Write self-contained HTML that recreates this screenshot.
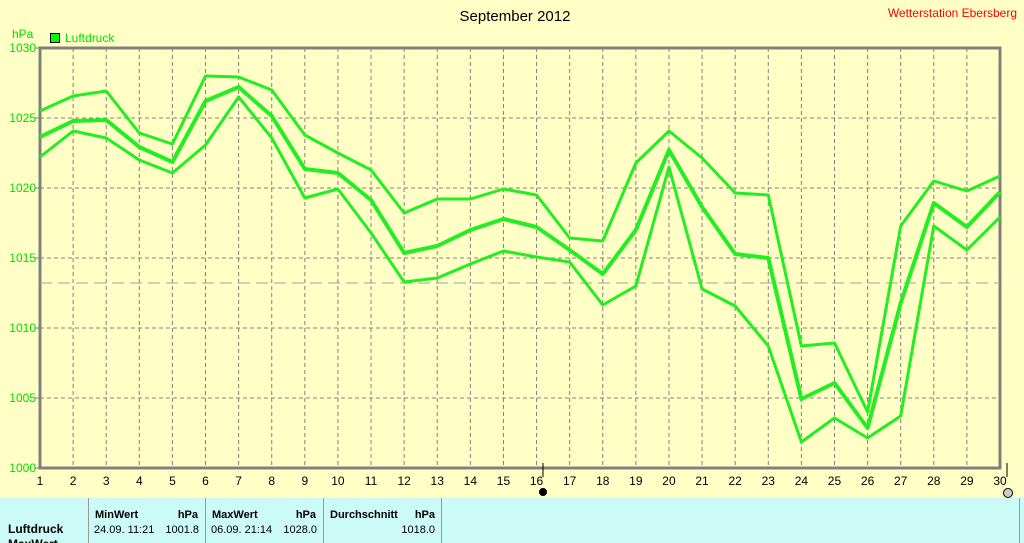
<!DOCTYPE html>
<html><head><meta charset="utf-8"><style>
body{margin:0;width:1024px;height:543px;overflow:hidden;background:#ffffc6;font-family:"Liberation Sans",sans-serif;}
</style></head><body>
<svg width="1024" height="543" style="position:absolute;left:0;top:0" font-family="Liberation Sans, sans-serif">
<rect x="0" y="0" width="1024" height="543" fill="#ffffc6"/>
<text x="515" y="21" font-size="15" text-anchor="middle" fill="#000">September 2012</text>
<text x="1017" y="17" font-size="12" text-anchor="end" fill="#ff0000">Wetterstation Ebersberg</text>
<text x="12" y="38" font-size="12" fill="#00e000">hPa</text>
<rect x="50.5" y="33.5" width="9" height="9" fill="#00ff00" stroke="#000"/>
<text x="65" y="42" font-size="12" fill="#00e000">Luftdruck</text>
<g id="grid" stroke="#808080" stroke-dasharray="4,3" stroke-width="1"></g>
<g stroke="#808080" stroke-width="3" fill="none"><path d="M40 48H1000V468H40Z"/></g>
<line x1="40" y1="283" x2="1000" y2="283" stroke="#a0a0a0" stroke-dasharray="12,6"/>
<g id="lab" font-size="12"></g>
<g id="lines" fill="none" stroke="#22ee22" stroke-linejoin="round"></g>
<line x1="1007" y1="463" x2="1007" y2="477" stroke="#000"/>
<line x1="543" y1="463" x2="543" y2="477" stroke="#000"/>
<circle cx="543" cy="492" r="4" fill="#000"/>
<circle cx="1008" cy="493" r="4.5" fill="#ccc" stroke="#000"/>
<rect x="0" y="498" width="1024" height="45" fill="#ccfaf7"/>
<g stroke="#999"><line x1="88.5" y1="498" x2="88.5" y2="543"/><line x1="205.5" y1="498" x2="205.5" y2="543"/><line x1="323.5" y1="498" x2="323.5" y2="543"/><line x1="441.5" y1="498" x2="441.5" y2="543"/><line x1="1019.5" y1="498" x2="1019.5" y2="543"/></g>
<g font-size="11" fill="#000">
<text x="95" y="518" font-weight="bold">MinWert</text><text x="198" y="518" font-weight="bold" text-anchor="end">hPa</text>
<text x="94" y="533">24.09.  11:21</text><text x="199" y="533" text-anchor="end">1001.8</text>
<text x="212" y="518" font-weight="bold">MaxWert</text><text x="316" y="518" font-weight="bold" text-anchor="end">hPa</text>
<text x="211" y="533">06.09.  21:14</text><text x="317" y="533" text-anchor="end">1028.0</text>
<text x="330" y="518" font-weight="bold">Durchschnitt</text><text x="435" y="518" font-weight="bold" text-anchor="end">hPa</text>
<text x="435" y="533" text-anchor="end">1018.0</text>
<text x="8" y="533" font-weight="bold" font-size="12">Luftdruck</text>
<text x="8" y="548" font-weight="bold" font-size="12">MaxWert</text>
</g>
</svg>
<script>
var ns="http://www.w3.org/2000/svg";
function el(p,t,a,txt){var e=document.createElementNS(ns,t);for(var k in a)e.setAttribute(k,a[k]);if(txt!=null)e.textContent=txt;document.getElementById(p).appendChild(e);}
var X=function(d){return 40+(d-1)*960/29;};
for(var d=2;d<=29;d++)el("grid","line",{x1:X(d),y1:48,x2:X(d),y2:468});
for(var v=1005;v<=1025;v+=5){var y=48+(1030-v)*14;el("grid","line",{x1:40,y1:y,x2:1000,y2:y});}
for(var v=1000;v<=1030;v+=5){var y=48+(1030-v)*14;el("lab","text",{x:36,y:y+4,"text-anchor":"end",fill:"#00e000"},v);el("lab","line",{x1:35,y1:y,x2:40,y2:y,stroke:"#808080"});}
for(var d=1;d<=30;d++)el("lab","text",{x:X(d),y:485,"text-anchor":"middle",fill:"#000"},d);
var U=[111,96,91,133,144,76,77,90,135,153,170,213,199,199,189,195,238,241,163,131,158,193,195,346,343,412,226,181,191,176];
var M=[137,121,120,147,162,101,87,116,169,173,200,253,246,230,219,227,250,274,230,150,207,254,258,399,383,428,303,203,227,192];
var L=[157,131,138,160,173,145,97,138,198,189,233,282,278,264,251,257,262,305,286,167,289,306,346,442,418,438,416,226,250,217];
function pl(a,w){el("lines","polyline",{points:a.map(function(y,i){return X(i+1)+","+y}).join(" "),"stroke-width":w});}
pl(U,3);pl(L,3);pl(M,4);
</script>
</body></html>
